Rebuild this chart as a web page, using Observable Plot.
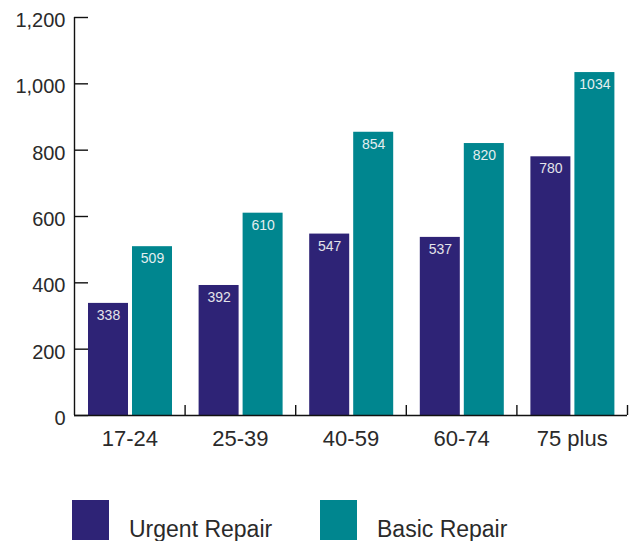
<!DOCTYPE html>
<html>
<head>
<meta charset="utf-8">
<script src="https://cdn.jsdelivr.net/npm/d3@7"></script>
<script src="https://cdn.jsdelivr.net/npm/@observablehq/plot@0.6"></script>
<style>
  body { margin: 0; background: #fff; overflow: hidden; font-family: "Liberation Sans", Arial, sans-serif; }
  #wrap { position: relative; width: 640px; height: 541px; }
  .legend { position: absolute; top: 500px; left: 0; width: 640px; height: 40px; }
  .item { position: absolute; top: 0; height: 40px; display: flex; align-items: center; }
  .swatch { width: 37px; height: 40px; margin-right: 20px; }
  .item span.lab { font-size: 23px; line-height: 22px; color: #2a2a2a; position: relative; top: 9px; white-space: nowrap; }
</style>
</head>
<body>
<div id="wrap"><div id="chart"></div><div class="legend" id="legend"></div></div>
<script>
// Repair need by age group of household head
const ageGroups = ["17-24", "25-39", "40-59", "60-74", "75 plus"];
const seriesNames = ["Urgent Repair", "Basic Repair"];
const urgentRepair = [338, 392, 547, 537, 780];
const basicRepair = [509, 610, 854, 820, 1034];
const yTicks = [0, 200, 400, 600, 800, 1000, 1200];
const seriesColors = ["#2e2376", "#00868f"];

const width = 640, height = 470;
const marginLeft = 74, marginRight = 13, marginTop = 17, marginBottom = 55;
const frameW = width - marginLeft - marginRight;
const frameH = height - marginTop - marginBottom;
const bw = frameW / ageGroups.length;   // width of one age-group band
const barW = 40, gap = 4, lead = 14;     // bar width, gap between pair, left padding

const urgentRows = ageGroups.map((g, i) => ({group: g, series: seriesNames[0], value: urgentRepair[i]}));
const basicRows = ageGroups.map((g, i) => ({group: g, series: seriesNames[1], value: basicRepair[i]}));

const off0 = lead + barW / 2 - bw / 2;              // centre offset of urgent bar
const off1 = lead + barW + gap + barW / 2 - bw / 2; // centre offset of basic bar

const axisStroke = "#111";

const chart = Plot.plot({
  width, height, marginLeft, marginRight, marginTop, marginBottom,
  style: {fontFamily: "'Liberation Sans', Arial, sans-serif", color: "#2a2a2a", background: "#fff"},
  x: {domain: ageGroups, padding: 0, round: false, label: null},
  y: {domain: [0, 1200], label: null},
  color: {domain: seriesNames, range: seriesColors},
  marks: [
    Plot.barY(urgentRows, {x: "group", y: "value", fill: "series",
      insetLeft: lead, insetRight: bw - lead - barW}),
    Plot.barY(basicRows, {x: "group", y: "value", fill: "series",
      insetLeft: lead + barW + gap, insetRight: bw - lead - 2 * barW - gap}),
    Plot.text(urgentRows, {x: "group", y: "value", text: d => String(d.value),
      dx: off0, dy: 12, fill: "#e4e4ea", fontSize: 14}),
    Plot.text(basicRows, {x: "group", y: "value", text: d => String(d.value),
      dx: off1, dy: 12, fill: "#e4eef0", fontSize: 14}),
    // left axis line
    Plot.ruleX([ageGroups[0]], {dx: -bw / 2, stroke: axisStroke, strokeWidth: 1.4}),
    // inward y ticks
    Plot.ruleY(yTicks, {stroke: axisStroke, strokeWidth: 1.4, insetRight: frameW - 14}),
    // baseline
    Plot.ruleY([0], {stroke: axisStroke, strokeWidth: 1.4}),
    // short ticks between age groups
    Plot.ruleX(ageGroups, {dx: bw / 2, insetTop: frameH - 10, stroke: axisStroke, strokeWidth: 1.4}),
    Plot.axisY({ticks: yTicks, tickSize: 0, tickPadding: 9, tickFormat: d3.format(","),
      fontSize: 20, dy: 3, label: null}),
    Plot.axisX({tickSize: 0, tickPadding: 15, fontSize: 22, label: null})
  ]
});
document.getElementById("chart").appendChild(chart);

// legend below the chart
const legendX = [72, 320];
const legend = document.getElementById("legend");
seriesNames.forEach((name, i) => {
  const item = document.createElement("div");
  item.className = "item";
  item.style.left = legendX[i] + "px";
  const sw = document.createElement("div");
  sw.className = "swatch";
  sw.style.background = seriesColors[i];
  const lab = document.createElement("span");
  lab.className = "lab";
  lab.textContent = name;
  item.appendChild(sw);
  item.appendChild(lab);
  legend.appendChild(item);
});
</script>
</body>
</html>
